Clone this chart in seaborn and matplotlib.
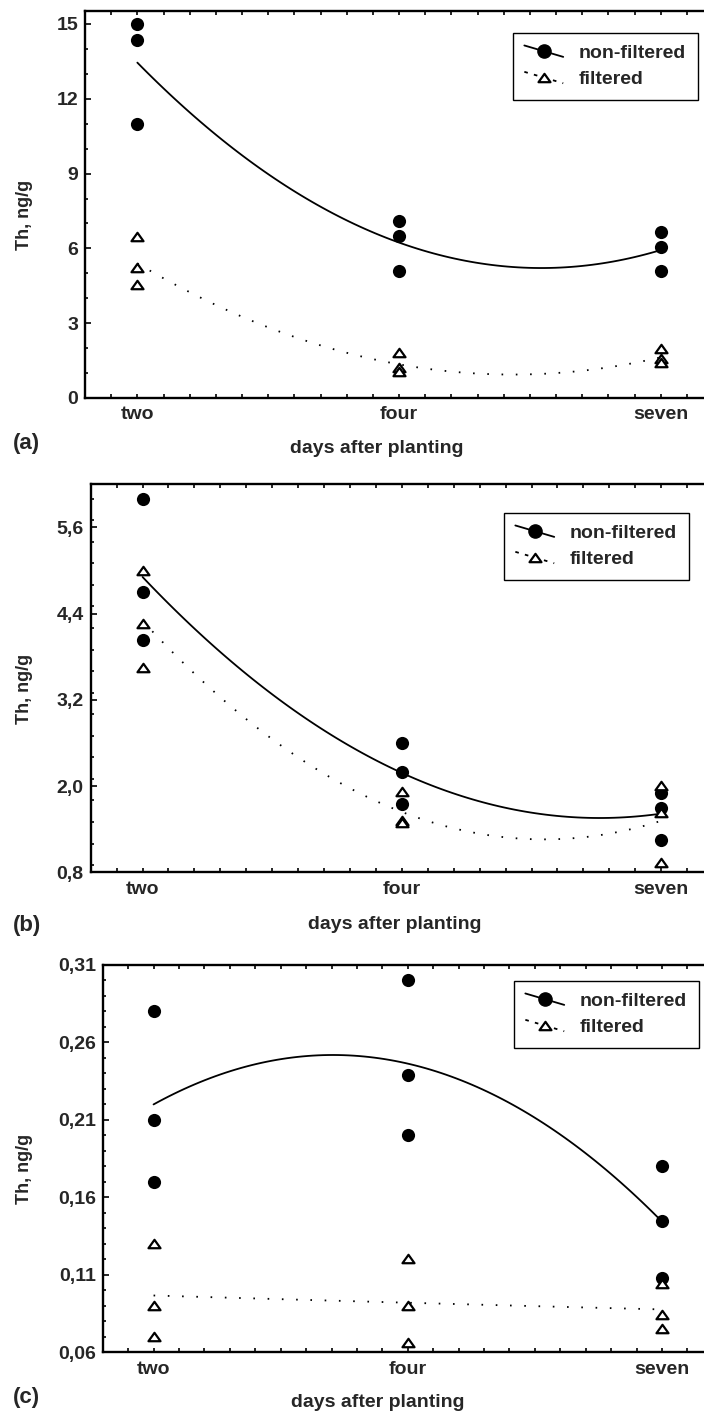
import numpy as np
import pandas as pd
import matplotlib
matplotlib.use("Agg")
import matplotlib.pyplot as plt
from matplotlib.lines import Line2D
from matplotlib.path import Path
from matplotlib.legend_handler import HandlerBase
from matplotlib.ticker import FixedLocator, FixedFormatter, MultipleLocator
import seaborn as sns

# ---------------- data ----------------
days = ["two", "four", "seven"]
series_names = ["non-filtered", "filtered"]

# panel (a)
a_nonfilt = [[15.0, 14.35, 11.0], [7.1, 6.5, 5.1], [6.65, 6.05, 5.1]]
a_filt = [[6.45, 5.2, 4.55], [1.8, 1.2, 1.05], [1.95, 1.55, 1.4]]
a_yticks = [0, 3, 6, 9, 12, 15]
a_yticklabels = ["0", "3", "6", "9", "12", "15"]

# panel (b)
b_nonfilt = [[6.0, 4.7, 4.03], [2.6, 2.2, 1.75], [1.9, 1.7, 1.25]]
b_filt = [[5.0, 4.25, 3.65], [1.92, 1.52, 1.48], [2.0, 1.62, 0.93]]
b_yticks = [0.8, 2.0, 3.2, 4.4, 5.6]
b_yticklabels = ["0,8", "2,0", "3,2", "4,4", "5,6"]

# panel (c)
c_nonfilt = [[0.28, 0.21, 0.17], [0.30, 0.239, 0.20], [0.18, 0.145, 0.108]]
c_filt = [[0.13, 0.09, 0.07], [0.12, 0.09, 0.066], [0.104, 0.084, 0.075]]
c_yticks = [0.06, 0.11, 0.16, 0.21, 0.26, 0.31]
c_yticklabels = ["0,06", "0,11", "0,16", "0,21", "0,26", "0,31"]

panel_letters = ["(a)", "(b)", "(c)"]
xlabel_text = "days after planting"
ylabel_text = "Th, ng/g"

# ---------------- style ----------------
sns.set_style("ticks")
plt.rcParams["font.family"] = ["Liberation Sans", "DejaVu Sans"]
plt.rcParams["font.weight"] = "bold"
plt.rcParams["axes.labelweight"] = "bold"

W, H = 704, 1416
fig = plt.figure(figsize=(W / 100, H / 100), dpi=100)


def long_df(groups, name):
    rows = []
    for i, vals in enumerate(groups):
        for v in vals:
            rows.append({"x": i, "y": v, "series": name})
    return pd.DataFrame(rows)


class SlantHandler(HandlerBase):
    def create_artists(self, legend, orig_handle, xdescent, ydescent,
                       width, height, fontsize, trans):
        x0 = -xdescent
        x1 = x0 + width
        yc = -ydescent + height / 2
        dy = height * 0.42
        ln = Line2D([x0, x1], [yc + dy, yc - dy])
        ln.update_from(orig_handle)
        ln.set_marker("None")
        mk = Line2D([(x0 + x1) / 2], [yc])
        mk.update_from(orig_handle)
        mk.set_linestyle("None")
        ln.set_transform(trans)
        mk.set_transform(trans)
        return [ln, mk]


panels = [
    dict(nf=a_nonfilt, f=a_filt, yt=a_yticks, ytl=a_yticklabels, minor=1.0,
         left=85, top=11, bottom=398, ylim=(0, 15.52), leg=(697.7, 32.7),
         xlab=(0.472, -0.108), ylab=(-0.084, 0.473), letter_y=443),
    dict(nf=b_nonfilt, f=b_filt, yt=b_yticks, ytl=b_yticklabels, minor=0.3,
         left=90.7, top=484.3, bottom=872.3, ylim=(0.8, 6.2), leg=(688.7, 512.7),
         xlab=(0.496, -0.113), ylab=(-0.094, 0.472), letter_y=925),
    dict(nf=c_nonfilt, f=c_filt, yt=c_yticks, ytl=c_yticklabels, minor=0.01,
         left=102.7, top=965, bottom=1352.3, ylim=(0.06, 0.31), leg=(698.7, 980.7),
         xlab=(0.457, -0.108), ylab=(-0.116, 0.473), letter_y=1397),
]

tri = Path([(0, 0.78), (-1, -0.62), (1, -0.62), (0, 0.78)], closed=True)
solid_kw = dict(color="black", lw=1.3)
dot_kw = dict(color="black", lw=1.3, linestyle=(0, (0.9, 7.0)))

for i, p in enumerate(panels):
    ax = fig.add_axes([p["left"] / W, 1 - p["bottom"] / H,
                       1 - p["left"] / W, (p["bottom"] - p["top"]) / H])
    dnf = long_df(p["nf"], series_names[0])
    df = long_df(p["f"], series_names[1])

    sns.regplot(data=dnf, x="x", y="y", order=2, ci=None, scatter=False,
                line_kws=solid_kw, ax=ax)
    sns.regplot(data=df, x="x", y="y", order=2, ci=None, scatter=False,
                line_kws=dot_kw, ax=ax)
    sns.scatterplot(data=dnf, x="x", y="y", marker="o", s=90, color="black",
                    edgecolor="black", linewidth=0, ax=ax, zorder=3)
    sns.scatterplot(data=df, x="x", y="y", marker=tri, s=75, color="white",
                    edgecolor="black", linewidth=1.6, ax=ax, zorder=4)

    ax.set_xlim(-0.2, 2.165)
    ax.set_ylim(*p["ylim"])
    ax.xaxis.set_major_locator(FixedLocator([0, 1, 2]))
    ax.xaxis.set_major_formatter(FixedFormatter(days))
    ax.xaxis.set_minor_locator(MultipleLocator(0.1))
    ax.yaxis.set_major_locator(FixedLocator(p["yt"]))
    ax.yaxis.set_major_formatter(FixedFormatter(p["ytl"]))
    ax.yaxis.set_minor_locator(MultipleLocator(p["minor"]))

    for s in ["left", "top", "bottom"]:
        ax.spines[s].set_linewidth(1.7)
        ax.spines[s].set_color("black")
    ax.spines["right"].set_visible(False)

    ax.tick_params(axis="both", which="both", direction="in", color="black",
                   width=1.2, top=True, right=False)
    ax.tick_params(axis="x", which="both", length=3, labelsize=14, pad=6)
    ax.tick_params(axis="y", which="major", length=4, labelsize=14, pad=5)
    ax.tick_params(axis="y", which="minor", length=2.5)
    for lbl in ax.get_xticklabels() + ax.get_yticklabels():
        lbl.set_fontweight("bold")

    ax.set_xlabel(xlabel_text, fontsize=14, fontweight="bold")
    ax.set_ylabel(ylabel_text, fontsize=13, fontweight="bold")
    ax.xaxis.set_label_coords(*p["xlab"])
    ax.yaxis.set_label_coords(*p["ylab"])

    handles = [
        Line2D([], [], color="black", lw=1.3, marker="o", markersize=9.5,
               markerfacecolor="black", markeredgecolor="black"),
        Line2D([], [], color="black", lw=1.3, linestyle=(0, (2.0, 3.5)), marker=tri,
               markersize=8.6, markerfacecolor="white", markeredgecolor="black",
               markeredgewidth=1.6),
    ]
    leg = ax.legend(handles, series_names, loc="upper right",
                    bbox_to_anchor=(p["leg"][0] / W, 1 - p["leg"][1] / H),
                    bbox_transform=fig.transFigure, borderaxespad=0,
                    frameon=True, fancybox=False, framealpha=1,
                    edgecolor="black", handlelength=2.0, handletextpad=0.8,
                    borderpad=0.6, labelspacing=0.45,
                    prop=dict(size=14, weight="bold"),
                    handler_map={Line2D: SlantHandler()})
    leg.get_frame().set_linewidth(1.0)

    fig.text(13 / W, 1 - p["letter_y"] / H, panel_letters[i], fontsize=16,
             fontweight="bold", ha="left", va="center")

fig.savefig("out.png", dpi=100)
